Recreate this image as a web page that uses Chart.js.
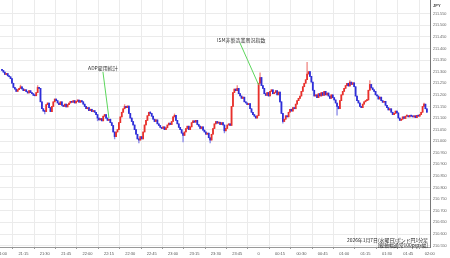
<!DOCTYPE html>
<html><head><meta charset="utf-8">
<script src="https://cdn.jsdelivr.net/npm/chart.js@4/dist/chart.umd.min.js"></script>
<style>html,body{margin:0;padding:0;background:#fff;}canvas{display:block;}</style>
</head><body>
<canvas id="c" width="450" height="258"></canvas>
<script>
// ---- data (GBP/JPY 1-minute candles, 21:00 -> 01:58) ----
const firstOpen = 211.310;
const closes = [
211.305,211.298,211.288,211.292,211.282,211.278,211.270,211.250,211.232,211.225,
211.215,211.222,211.228,211.235,211.226,211.218,211.222,211.214,211.208,211.218,211.210,
211.205,211.198,211.196,211.210,211.232,211.228,
211.170,211.140,211.130,211.128,
211.158,211.165,211.145,211.128,
211.150,211.170,211.182,211.175,
211.165,211.158,211.170,
211.155,211.150,211.160,211.148,211.158,
211.165,211.172,211.168,211.175,211.165,
211.172,211.178,211.168,211.175,211.170,
211.160,211.150,211.140,211.145,211.132,
211.138,211.128,211.132,211.125,
211.115,211.100,211.092,211.098,211.088,
211.108,211.115,
211.100,211.090,211.095,
211.080,211.068,
211.040,211.020,
211.040,211.050,
211.080,211.105,211.125,211.140,211.150,
211.145,211.152,
211.120,211.100,211.085,211.070,
211.050,211.030,211.010,211.005,
211.020,211.010,
211.040,211.070,211.090,211.110,211.125,
211.120,
211.108,211.095,211.085,211.092,211.075,211.068,
211.060,211.055,211.062,211.050,211.058,
211.070,211.078,211.072,211.085,
211.105,211.112,
211.090,211.075,211.060,211.050,
211.035,211.025,211.040,
211.055,211.065,211.050,211.062,
211.080,211.088,211.082,211.090,
211.072,211.065,211.055,211.062,211.048,
211.040,211.030,211.035,211.015,211.005,
211.030,211.055,211.075,211.085,
211.078,211.082,211.072,211.080,211.070,
211.045,211.055,
211.070,211.075,211.068,
211.150,211.210,
211.225,211.218,211.228,
211.205,211.195,
211.185,211.190,
211.170,211.165,211.158,211.162,
211.140,211.125,211.115,211.108,
211.100,211.110,
211.250,211.275,
211.240,211.228,
211.205,211.198,211.210,211.195,
211.215,211.222,211.205,
211.210,211.218,211.200,211.212,
211.170,211.120,211.085,
211.095,211.110,211.105,211.125,211.138,
211.130,211.145,211.140,
211.160,211.175,211.185,211.195,
211.215,211.235,211.250,211.265,
211.290,211.300,
211.280,211.255,
211.220,211.195,
211.200,211.188,211.205,211.195,
211.210,211.198,211.215,211.200,211.208,
211.195,211.185,211.200,211.188,211.178,
211.165,211.150,211.140,
211.175,211.200,211.215,211.228,
211.240,211.250,211.238,211.255,
211.245,211.252,211.235,
211.195,211.175,
211.165,211.150,211.145,211.160,
211.170,211.175,211.178,
211.220,211.245,
211.230,211.222,211.215,
211.200,211.195,211.182,211.190,
211.175,211.168,211.172,
211.155,211.145,211.135,211.140,
211.125,211.115,211.120,
211.130,211.122,
211.100,211.090,211.095,
211.105,211.098,211.108,
211.110,211.105,211.112,211.108,
211.105,211.110,211.102,211.112,
211.108,211.115,211.125,
211.150,211.160,
211.140,211.125
];
// notable wick extremes [candle index, price]
const wickLows = [[30,211.118],[67,211.088],[79,211.010],[96,210.993],[127,210.997],[146,210.993],[156,211.036],[197,211.078],[235,211.112]];
const wickHighs = [[13,211.242],[25,211.240],[86,211.158],[104,211.128],[121,211.118],[165,211.240],[181,211.295],[214,211.340],[244,211.262],[258,211.262],[296,211.165]];

const xTickMinutes = [0,15,30,45,60,75,90,105,120,135,150,165,180,195,210,225,240,255,270,285,300];
const xTickLabels = ["21:00","21:15","21:30","21:45","22:00","22:15","22:30","22:45","23:00","23:15","23:30","23:45","0","00:15","00:30","00:45","01:00","01:15","01:30","01:45","02:00"];
const yTicks = [210.55,210.60,210.65,210.70,210.75,210.80,210.85,210.90,210.95,211.00,211.05,211.10,211.15,211.20,211.25,211.30,211.35,211.40,211.45,211.50,211.55];
const unitLabel = "JPY";
const captionLines = ["2026年1月7日(水曜日)ポンド円1分足","[縦軸幅通常100pips幅]"];
const eventLabels = ["ADP雇用統計","ISM非製造業景況指数"];
const eventMinutes = [75,180];
const eventPrices = [211.100,211.243];

// ---- build candles ----
const opens = closes.map((c,i)=> i===0 ? firstOpen : closes[i-1]);
const lowMap = Object.fromEntries(wickLows);
const highMap = Object.fromEntries(wickHighs);
const bodyData = closes.map((c,i)=>({x:i, y:[opens[i], c]}));
const wickData = closes.map((c,i)=>{
  let lo = Math.min(opens[i], c), hi = Math.max(opens[i], c);
  if (lowMap[i] !== undefined) lo = Math.min(lo, lowMap[i]);
  if (highMap[i] !== undefined) hi = Math.max(hi, highMap[i]);
  return {x:i, y:[lo, hi]};
});
const up = closes.map((c,i)=> c >= opens[i]);
const bodyColors = up.map(u=> u ? '#e8302c' : '#2e2ed8');
const wickColors = up.map(u=> u ? '#f08c88' : '#8c8ce8');

// annotation layout (text anchor and line start in data coords)
const annoLayout = [
  {textX:70.8, textY:211.316, lineX:70.8, lineY:211.299},
  {textX:167.8, textY:211.438, lineX:166.9, lineY:211.424}
];

const overlay = {
  id:'overlay',
  afterDatasetsDraw(chart){
    const {ctx, scales:{x,y}} = chart;
    ctx.save();
    eventLabels.forEach((t,k)=>{
      const L = annoLayout[k];
      ctx.strokeStyle = '#5cd65c';
      ctx.lineWidth = 1;
      ctx.beginPath();
      ctx.moveTo(x.getPixelForValue(L.lineX), y.getPixelForValue(L.lineY));
      ctx.lineTo(x.getPixelForValue(eventMinutes[k]), y.getPixelForValue(eventPrices[k]));
      ctx.stroke();
      ctx.fillStyle = '#333';
      ctx.font = '5px "Noto Sans CJK JP", "Liberation Sans", sans-serif';
      ctx.textAlign = 'center';
      ctx.textBaseline = 'middle';
      ctx.fillText(t, x.getPixelForValue(L.textX), y.getPixelForValue(L.textY));
    });
    // unit label
    ctx.fillStyle = '#444';
    ctx.font = 'bold 4px "Liberation Sans", sans-serif';
    ctx.textAlign = 'left';
    ctx.textBaseline = 'middle';
    ctx.fillText(unitLabel, chart.chartArea.right + 3, 5.5);
    // caption
    ctx.fillStyle = '#222';
    ctx.font = '4.9px "Noto Sans CJK JP", "Liberation Sans", sans-serif';
    ctx.textAlign = 'right';
    ctx.fillText(captionLines[0], chart.chartArea.right - 2, 240);
    ctx.fillText(captionLines[1], chart.chartArea.right - 2, 245.3);
    ctx.restore();
  }
};

new Chart(document.getElementById('c'), {
  type:'bar',
  data:{ datasets:[
    {data:wickData, backgroundColor:wickColors, barThickness:0.7, grouped:false, order:2, minBarLength:1, borderWidth:0},
    {data:bodyData, backgroundColor:bodyColors, barThickness:1.1, grouped:false, order:1, minBarLength:1, borderWidth:0}
  ]},
  options:{
    responsive:false, animation:false, devicePixelRatio:1,
    layout:{padding:0},
    plugins:{legend:{display:false}, tooltip:{enabled:false}},
    scales:{
      x:{
        type:'linear', min:-1.4, max:300.2, offset:false,
        afterBuildTicks: s => { s.ticks = xTickMinutes.map(v=>({value:v})); },
        afterFit: s => { s.paddingLeft = 0; s.paddingRight = 0; s.height = 11; },
        ticks:{ callback: v => xTickLabels[xTickMinutes.indexOf(v)], autoSkip:false, maxRotation:0,
          font:{size:4, family:'"Liberation Sans", sans-serif'}, color:'#555', padding:2 },
        grid:{ color:'#ebebeb', tickColor:'#999', tickLength:2 },
        border:{ color:'#999' }
      },
      y:{
        position:'right', min:210.544, max:211.609,
        afterBuildTicks: s => { s.ticks = yTicks.map(v=>({value:v})); },
        afterFit: s => { s.width = 20; s.paddingTop = 0; s.paddingBottom = 0; },
        ticks:{ callback: v => Number(v).toFixed(3), font:{size:3.8, family:'"Liberation Sans", sans-serif'}, color:'#666', padding:3 },
        grid:{ color:'#ebebeb', drawTicks:false },
        border:{ color:'#777' }
      }
    }
  },
  plugins:[overlay]
});
</script>
</body></html>
